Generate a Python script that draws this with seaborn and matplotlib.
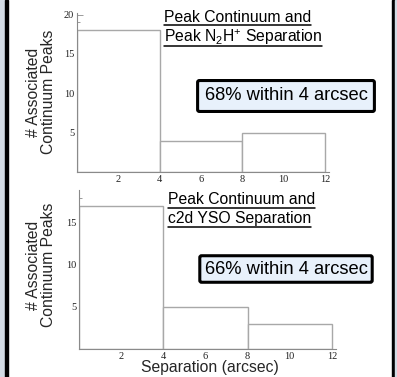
import matplotlib
matplotlib.use('Agg')
import matplotlib.pyplot as plt
import seaborn as sns
from matplotlib.lines import Line2D
from matplotlib.patches import Rectangle
from matplotlib.ticker import MultipleLocator

# histogram data (separation bins in arcsec, counts per bin)
bin_edges = [0, 4, 8, 12]
bin_centers = [2, 6, 10]
n2h_counts = [18, 4, 5]
yso_counts = [17, 5, 3]

top_title = ['Peak Continuum and', r'Peak N$_2$H$^{{+}}$ Separation']
bot_title = ['Peak Continuum and', 'c2d YSO Separation']
top_box = '68% within 4 arcsec'
bot_box = '66% within 4 arcsec'
ylabel = '# Associated\nContinuum Peaks'
xlabel = 'Separation (arcsec)'
xticks = [2, 4, 6, 8, 10, 12]

sns.set_style('white')
plt.rcParams['font.family'] = ['Liberation Sans', 'DejaVu Sans']
plt.rcParams['mathtext.fontset'] = 'custom'
plt.rcParams['mathtext.rm'] = 'Liberation Sans'
plt.rcParams['mathtext.it'] = 'Liberation Sans'

W, H = 397, 377
fig = plt.figure(figsize=(W / 100, H / 100), dpi=100)
fig.patch.set_facecolor('white')

def fx(px):
    return px / W

def fy(py):
    return 1 - py / H

# frame strips on left and right
fig.patches.append(Rectangle((0, 0), fx(5), 1, transform=fig.transFigure, color='#d3dbe4', zorder=0))
fig.patches.append(Rectangle((fx(5), 0), fx(3), 1, transform=fig.transFigure, color='black', zorder=0))
fig.patches.append(Rectangle((fx(392), 0), fx(3), 1, transform=fig.transFigure, color='black', zorder=0))
fig.patches.append(Rectangle((fx(395), 0), fx(2), 1, transform=fig.transFigure, color='#d3dbe4', zorder=0))

ax1 = fig.add_axes([fx(77), fy(172), fx(252), (172 - 13) / H])
ax2 = fig.add_axes([fx(79), fy(349), fx(257), (349 - 190) / H])

axis_col = '#8a8a8a'
for ax, counts, ytop in [(ax1, n2h_counts, 20.2), (ax2, yso_counts, 18.9)]:
    sns.histplot(x=bin_centers, weights=counts, bins=bin_edges, ax=ax,
                 color='white', edgecolor='#a8a8a8', linewidth=1.0, alpha=1)
    ax.set_xlim(0, 12.2)
    ax.set_ylim(0, ytop)
    ax.set_xlabel('')
    ax.set_ylabel('')
    ax.patch.set_alpha(0)
    for s in ['top', 'right']:
        ax.spines[s].set_visible(False)
    for s in ['left', 'bottom']:
        ax.spines[s].set_color(axis_col)
        ax.spines[s].set_linewidth(0.8)
    ax.set_xticks(xticks)
    ax.set_yticks([t for t in [5, 10, 15, 20] if t <= ytop])
    ax.xaxis.set_minor_locator(MultipleLocator(0.5))
    ax.yaxis.set_minor_locator(MultipleLocator(1))
    ax.tick_params(which='both', direction='in', colors=axis_col, labelcolor='#222222',
                   width=0.6, bottom=True, left=True)
    ax.tick_params(which='major', length=4, labelsize=7.5, pad=2,
                   labelfontfamily='Liberation Serif')
    ax.tick_params(which='minor', length=2)

# titles (underlined)
title_specs = [(top_title, 164, [22, 42], [24.5, 45.5]),
               (bot_title, 168, [204, 223.5], [207.5, 227])]
title_texts = []
for lines, x0, bases, ulines in title_specs:
    for line, b, u in zip(lines, bases, ulines):
        t = fig.text(fx(x0), fy(b), line, ha='left', va='baseline', fontsize=11.3, color='black')
        title_texts.append((t, u))

# percentage boxes
for txt, cy, pad in [(top_box, 96, 0.38), (bot_box, 269, 0.26)]:
    fig.text(fx(286), fy(cy), txt, ha='center', va='center', fontsize=13.2, color='black',
             bbox=dict(boxstyle='round,pad=%s,rounding_size=0.1' % pad, facecolor='#e8f1fb',
                       edgecolor='black', linewidth=2.2))

# y labels
for cy in [92, 265]:
    fig.text(fx(41), fy(cy), ylabel, rotation=90, ha='center', va='center',
             fontsize=11.3, linespacing=1.0, multialignment='center')

fig.text(fx(210), fy(372), xlabel, ha='center', va='baseline', fontsize=11.3)

fig.canvas.draw()
renderer = fig.canvas.get_renderer()
for t, u in title_texts:
    bb = t.get_window_extent(renderer)
    fig.add_artist(Line2D([bb.x0 / W, bb.x1 / W], [fy(u), fy(u)], transform=fig.transFigure,
                          color='black', linewidth=1.1))

fig.savefig('out.png', dpi=100)
